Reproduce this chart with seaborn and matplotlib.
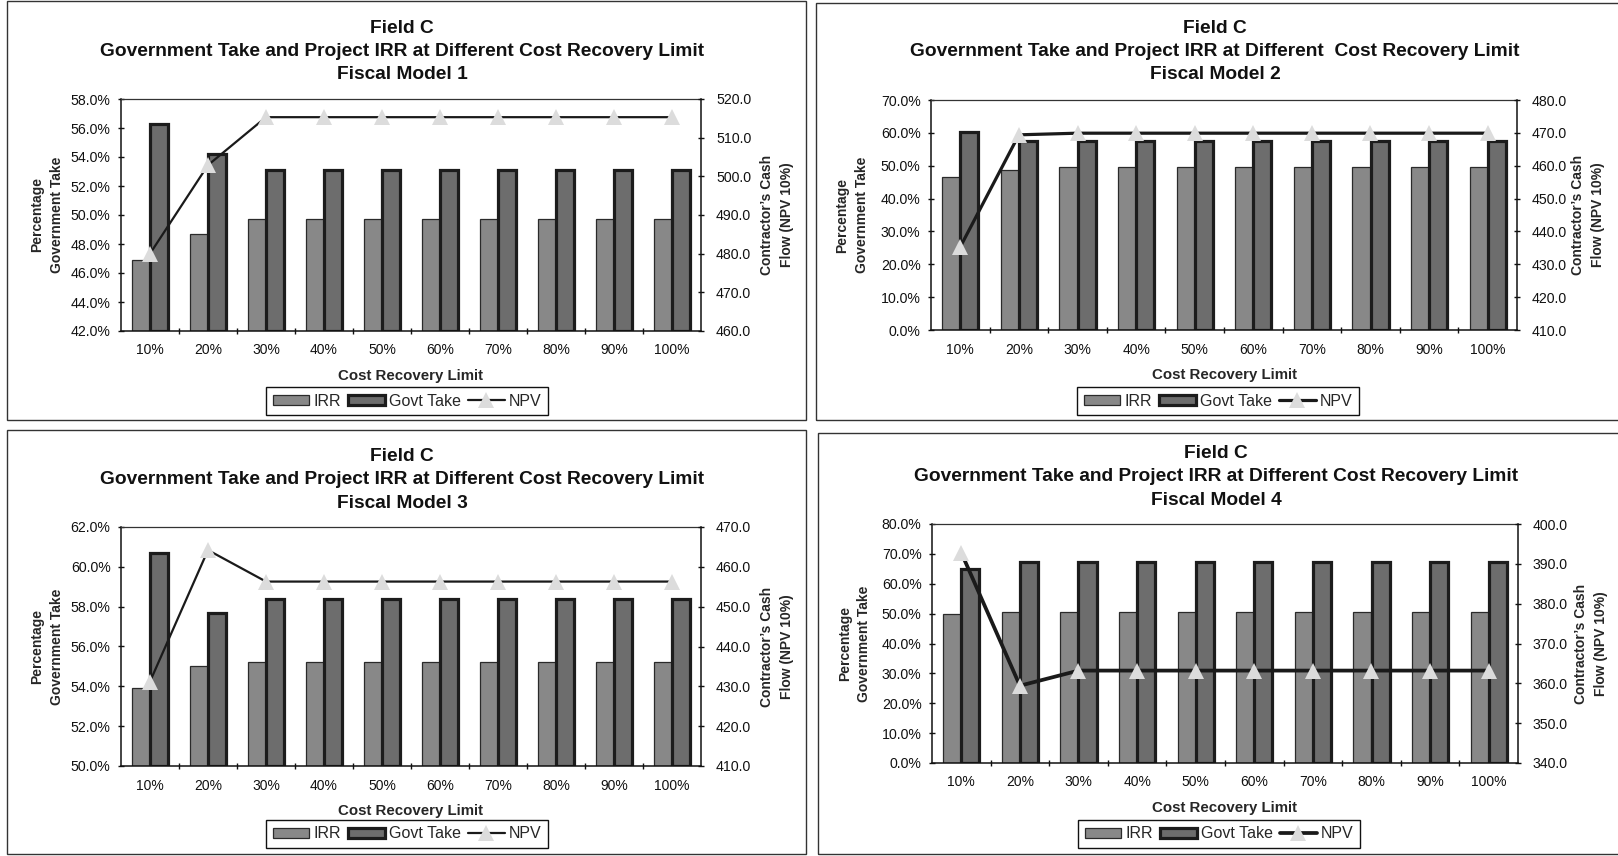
import numpy as np
import pandas as pd
import matplotlib
matplotlib.use("Agg")
import matplotlib.pyplot as plt
from matplotlib.patches import Rectangle
from matplotlib.ticker import FuncFormatter
import seaborn as sns

# ---- data -----------------------------------------------------------------
limits = ["10%", "20%", "30%", "40%", "50%", "60%", "70%", "80%", "90%", "100%"]

irr_m1 = [46.9, 48.7, 49.7, 49.7, 49.7, 49.7, 49.7, 49.7, 49.7, 49.7]
govt_m1 = [56.3, 54.2, 53.1, 53.1, 53.1, 53.1, 53.1, 53.1, 53.1, 53.1]
npv_m1 = [480.0, 502.9, 515.3, 515.3, 515.3, 515.3, 515.3, 515.3, 515.3, 515.3]

irr_m2 = [46.7, 48.7, 49.5, 49.5, 49.5, 49.5, 49.5, 49.5, 49.5, 49.5]
govt_m2 = [60.3, 57.4, 57.4, 57.4, 57.4, 57.4, 57.4, 57.4, 57.4, 57.4]
npv_m2 = [435.3, 469.4, 469.9, 469.9, 469.9, 469.9, 469.9, 469.9, 469.9, 469.9]

irr_m3 = [53.9, 55.0, 55.2, 55.2, 55.2, 55.2, 55.2, 55.2, 55.2, 55.2]
govt_m3 = [60.7, 57.7, 58.4, 58.4, 58.4, 58.4, 58.4, 58.4, 58.4, 58.4]
npv_m3 = [431.2, 464.2, 456.3, 456.3, 456.3, 456.3, 456.3, 456.3, 456.3, 456.3]

irr_m4 = [49.8, 50.7, 50.7, 50.7, 50.7, 50.7, 50.7, 50.7, 50.7, 50.7]
govt_m4 = [64.9, 67.4, 67.4, 67.4, 67.4, 67.4, 67.4, 67.4, 67.4, 67.4]
npv_m4 = [392.8, 359.4, 363.2, 363.2, 363.2, 363.2, 363.2, 363.2, 363.2, 363.2]

left_ticks = [
    [42, 44, 46, 48, 50, 52, 54, 56, 58],
    [0, 10, 20, 30, 40, 50, 60, 70],
    [50, 52, 54, 56, 58, 60, 62],
    [0, 10, 20, 30, 40, 50, 60, 70, 80],
]
right_ticks = [
    [460, 470, 480, 490, 500, 510, 520],
    [410, 420, 430, 440, 450, 460, 470, 480],
    [410, 420, 430, 440, 450, 460, 470],
    [340, 350, 360, 370, 380, 390, 400],
]

header = "Field C"
subtitles = [
    "Government Take and Project IRR at Different Cost Recovery Limit",
    "Government Take and Project IRR at Different  Cost Recovery Limit",
    "Government Take and Project IRR at Different Cost Recovery Limit",
    "Government Take and Project IRR at Different Cost Recovery Limit",
]
models = ["Fiscal Model 1", "Fiscal Model 2", "Fiscal Model 3", "Fiscal Model 4"]
series_names = ["IRR", "Govt Take", "NPV"]

irr_all = [irr_m1, irr_m2, irr_m3, irr_m4]
govt_all = [govt_m1, govt_m2, govt_m3, govt_m4]
npv_all = [npv_m1, npv_m2, npv_m3, npv_m4]

# ---- style ------------------------------------------------------------------
sns.set_style("white")
plt.rcParams["font.family"] = ["Liberation Sans", "DejaVu Sans"]

W, H = 1618, 856
fig = plt.figure(figsize=(W / 100, H / 100), dpi=100)

IRR_COLOR = "#888888"
GOVT_COLOR = "#6d6d6d"
EDGE = "#1c1c1c"

# pixel geometry of each panel: axes box, frame box, title x / line ys, legend centre
panels = [
    dict(ax=(121, 99, 701, 331), frame=(7, 1, 806, 420), tx=402, ty=(28.5, 51, 74.5),
         leg=(407, 401), ylx=-0.128, yrx=1.131, lw=1.6),
    dict(ax=(931, 100, 1517, 330), frame=(816, 3, 1630, 420), tx=1215, ty=(28.5, 51, 74.5),
         leg=(1218, 401), ylx=-0.135, yrx=1.121, lw=2.3),
    dict(ax=(121, 527, 701, 766), frame=(7, 430, 806, 854), tx=402, ty=(456.5, 479.5, 503),
         leg=(407, 834), ylx=-0.128, yrx=1.131, lw=1.6),
    dict(ax=(932, 524, 1518, 763), frame=(818, 433, 1630, 854), tx=1216, ty=(454, 477, 500.5),
         leg=(1219, 834), ylx=-0.132, yrx=1.125, lw=2.7),
]

for i, p in enumerate(panels):
    # panel frame
    fx0, fy0, fx1, fy1 = p["frame"]
    fig.add_artist(Rectangle((fx0 / W, 1 - fy1 / H), (fx1 - fx0) / W, (fy1 - fy0) / H,
                             transform=fig.transFigure, fill=False,
                             edgecolor="#333333", linewidth=1.0))

    x0, y0, x1, y1 = p["ax"]
    ax = fig.add_axes([x0 / W, 1 - y1 / H, (x1 - x0) / W, (y1 - y0) / H])
    hpx = y1 - y0

    df = pd.DataFrame({
        "limit": limits * 2,
        "value": irr_all[i] + govt_all[i],
        "series": ["IRR"] * len(limits) + ["Govt Take"] * len(limits),
    })
    sns.barplot(data=df, x="limit", y="value", hue="series", order=limits,
                hue_order=["IRR", "Govt Take"],
                palette={"IRR": IRR_COLOR, "Govt Take": GOVT_COLOR},
                width=0.62, gap=0, saturation=1, legend=False, ax=ax)

    ymin, ymax = left_ticks[i][0], left_ticks[i][-1]
    ax.set_ylim(ymin, ymax)
    ax.set_xlim(-0.5, len(limits) - 0.5)

    # bars rise from the bottom of the value axis
    for k, container in enumerate(ax.containers):
        for bar in container:
            h = bar.get_height()
            bar.set_y(ymin)
            bar.set_height(h - ymin)
            if k == 0:
                bar.set_edgecolor("#2a2a2a")
                bar.set_linewidth(0.9)
            else:
                bar.set_edgecolor(EDGE)
                bar.set_linewidth(2.3)
            bar.set_zorder(2)

    ax.set_yticks(left_ticks[i])
    ax.yaxis.set_major_formatter(FuncFormatter(lambda v, pos: f"{v:.1f}%"))
    ax.set_xticks(np.arange(len(limits)))
    ax.set_xticklabels(limits)
    ax.set_xticks(np.arange(len(limits) - 1) + 0.5, minor=True)
    ax.tick_params(axis="x", which="major", length=0, pad=9, labelsize=10, colors="#111111")
    ax.tick_params(axis="x", which="minor", direction="inout", length=5, width=1,
                   color="#111111", bottom=True)
    ax.tick_params(axis="y", which="major", direction="inout", length=5, width=1,
                   pad=5, labelsize=10.2, color="#111111", labelcolor="#111111", left=True)

    for s in ["left", "bottom", "right"]:
        ax.spines[s].set_color("#111111")
        ax.spines[s].set_linewidth(1.1)
    ax.spines["top"].set_color("#333333")
    ax.spines["top"].set_linewidth(0.9)

    ax.set_xlabel("Cost Recovery Limit", fontsize=10.8, fontweight="bold")
    ax.xaxis.label.set_va("center")
    ax.xaxis.set_label_coords(0.5, -45 / hpx)
    ax.set_ylabel("Percentage\nGovernment Take", fontsize=10, fontweight="bold",
                  linespacing=1.5)
    ax.yaxis.label.set_va("center")
    ax.yaxis.set_label_coords(p["ylx"], 0.5)

    # NPV on the secondary axis
    ax2 = ax.twinx()
    sns.lineplot(x=np.arange(len(limits)), y=npv_all[i], ax=ax2, color="#1a1a1a",
                 linewidth=p["lw"], marker="^", markersize=11,
                 markerfacecolor="#dcdcdc", markeredgewidth=0, zorder=5)
    ax2.set_ylim(right_ticks[i][0], right_ticks[i][-1])
    ax2.set_yticks(right_ticks[i])
    ax2.yaxis.set_major_formatter(FuncFormatter(lambda v, pos: f"{v:.1f}"))
    ax2.tick_params(axis="y", which="major", direction="inout", length=5, width=1,
                    pad=8.3, labelsize=10.2, color="#111111", labelcolor="#111111", right=True)
    for s in ax2.spines.values():
        s.set_visible(False)
    ax2.set_ylabel("Contractor\u2019s Cash\nFlow (NPV 10%)", fontsize=10,
                   fontweight="bold", linespacing=1.5)
    ax2.yaxis.label.set_va("center")
    ax2.yaxis.set_label_coords(p["yrx"], 0.5)
    ax2.set_xlim(-0.5, len(limits) - 0.5)

    # titles
    for line, ty in zip([header, subtitles[i], models[i]], p["ty"]):
        fig.text(p["tx"] / W, 1 - ty / H, line, ha="center", va="center",
                 fontsize=13.8, fontweight="bold", color="#111111")

    # legend
    handles = [ax.containers[0][0], ax.containers[1][0], ax2.lines[0]]
    lx, ly = p["leg"]
    leg = ax.legend(handles, series_names, loc="center", bbox_to_anchor=(lx / W, 1 - ly / H),
                    bbox_transform=fig.transFigure, ncol=3, fontsize=11.5,
                    handlelength=2.3, handleheight=0.55, handletextpad=0.25,
                    columnspacing=0.45, borderpad=0.42, borderaxespad=0,
                    frameon=True, fancybox=False, framealpha=1, edgecolor="#111111")
    leg.get_frame().set_linewidth(1.0)

fig.savefig("out.png", dpi=100)
